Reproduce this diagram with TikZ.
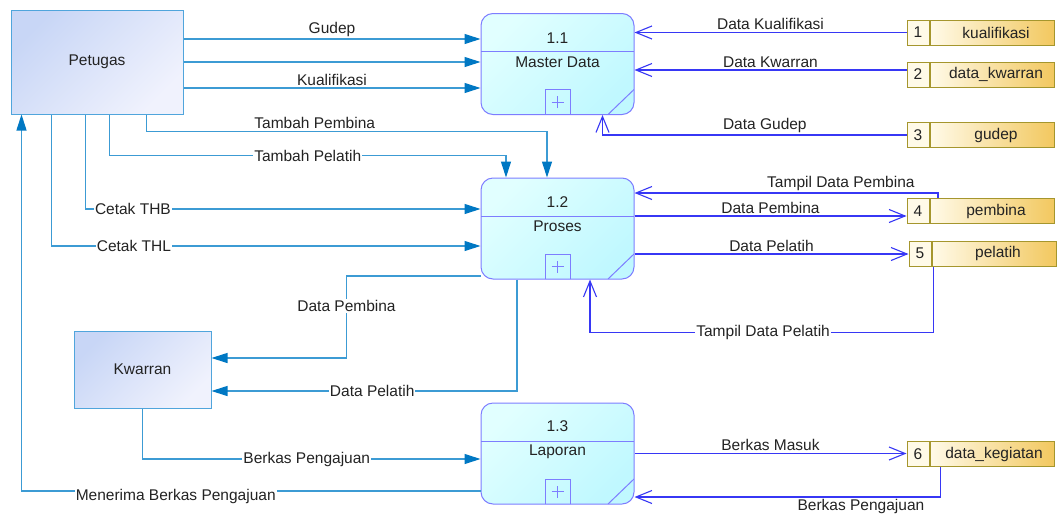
\documentclass[tikz,border=0pt]{standalone}
\usepackage{fontspec}
\setmainfont{Liberation Sans}
\usetikzlibrary{positioning,arrows.meta}

\definecolor{entline}{RGB}{80,165,220}
\definecolor{enttop}{RGB}{200,214,246}
\definecolor{entbot}{RGB}{240,242,253}
\definecolor{procline}{RGB}{125,125,255}
\definecolor{proctop}{RGB}{225,255,255}
\definecolor{procbot}{RGB}{192,248,255}
\definecolor{storeline}{RGB}{165,150,45}
\definecolor{storeleft}{RGB}{255,250,232}
\definecolor{storeright}{RGB}{242,200,95}
\definecolor{flowline}{RGB}{60,155,212}
\definecolor{flowtip}{RGB}{0,120,195}
\definecolor{dataline}{RGB}{55,55,245}
\definecolor{ink}{RGB}{35,35,35}

\begin{document}
\begin{tikzpicture}[
        x=1pt, y=-1pt,
        font=\fontsize{15.5}{17}\selectfont, text=ink,
        entity/.style={draw=entline, line width=1pt, top color=enttop, bottom color=entbot, shading angle=45},
        proc/.style={draw=procline, line width=1pt, rounded corners=12pt, minimum width=153pt, minimum height=101pt,
          top color=proctop, bottom color=procbot, shading angle=45,
          path picture={
            \draw[procline, line width=1pt, sharp corners] ([yshift=-38pt]path picture bounding box.north west) -- ([yshift=-38pt]path picture bounding box.north east);
            \draw[procline, line width=1pt, sharp corners] ([xshift=-12.5pt]path picture bounding box.south) rectangle ([xshift=12.5pt, yshift=25pt]path picture bounding box.south);
            \draw[procline, line width=0.7pt, sharp corners] ([yshift=12.5pt]path picture bounding box.south) +(-6pt,0pt) -- +(6pt,0pt) +(0pt,-6pt) -- +(0pt,6pt);
            \draw[procline, line width=1pt, sharp corners] ([yshift=25pt]path picture bounding box.south east) -- ([xshift=-26pt]path picture bounding box.south east);
          }},
        storenum/.style={draw=storeline, line width=1pt, fill=storeleft, minimum width=22pt, minimum height=25pt, inner sep=0pt},
        storebox/.style={draw=storeline, line width=1pt, left color=storeleft, right color=storeright, minimum width=124pt, minimum height=25pt, inner sep=0pt},
        flow/.style={draw=flowline, line width=1.1pt, -{Triangle[length=16pt, width=10pt, color=flowtip]}},
        dflow/.style={draw=dataline, line width=1.1pt, -{Straight Barb[length=16pt, width=13pt]}},
        lbl/.style={inner sep=2pt},
        onlbl/.style={fill=white, inner sep=1pt}
      ]

      \fill[white] (0,0) rectangle (1057,517);
      \useasboundingbox (0,0) rectangle (1057,517);

      % external entities
      \node (pet) [entity, minimum width=172pt, minimum height=104pt] at (97,62) {Petugas};
      \node (kwr) [entity, minimum width=137pt, minimum height=77pt] at (142.5,369.5) {Kwarran};

      % processes
      \node (p11) [proc] at (557.5,64) {};
      \node (p11num) at ([yshift=-25pt]p11.north) {1.1};
      \node (p11txt) at ([yshift=-49pt]p11.north) {Master Data};
      \node (p12) [proc] at (557.5,228.5) {};
      \node (p12num) at ([yshift=-25pt]p12.north) {1.2};
      \node (p12txt) at ([yshift=-49pt]p12.north) {Proses};
      \node (p13) [proc] at (557.5,453.5) {};
      \node (p13num) at ([yshift=-24pt]p13.north) {1.3};
      \node (p13txt) at ([yshift=-49pt]p13.north) {Laporan};

      % data stores
      \node (d1n) [storenum] at (918,32.5) {1};
      \node (d1) [storebox, right=0pt of d1n] {\hspace{8pt}kualifikasi};
      \node (d2n) [storenum] at (918,74.5) {2};
      \node (d2) [storebox, right=0pt of d2n] {\hspace{8pt}data\_kwarran};
      \node (d3n) [storenum] at (918,135) {3};
      \node (d3) [storebox, right=0pt of d3n] {\hspace{8pt}gudep};
      \node (d4n) [storenum] at (918,211) {4};
      \node (d4) [storebox, right=0pt of d4n] {\hspace{8pt}pembina};
      \node (d5n) [storenum] at (920,253.5) {5};
      \node (d5) [storebox, right=0pt of d5n] {\hspace{8pt}pelatih};
      \node (d6n) [storenum] at (918,454) {6};
      \node (d6) [storebox, right=0pt of d6n] {\hspace{4pt}data\_kegiatan};

      % flows from the entities
      \draw[flow] ([yshift=23pt]pet.east) coordinate (gd) -- node[above, lbl] {Gudep} (gd -| p11.west);
      \draw[flow] (pet.east) -- (pet.east -| p11.west);
      \draw[flow] ([yshift=-26pt]pet.east) coordinate (kl) -- node[above, lbl] {Kualifikasi} (kl -| p11.west);
      \draw[flow] ([xshift=136pt]pet.south west) -- ++(0,17) -| node[pos=0.21, above, lbl] {Tambah Pembina} ([xshift=-10.5pt]p12.north);
      \draw[flow] ([xshift=99pt]pet.south west) -- ++(0,41) -| node[pos=0.25, onlbl] {Tambah Pelatih} ([xshift=-51.5pt]p12.north);
      \draw[flow] ([xshift=75pt]pet.south west) |- node[pos=0.56, onlbl] {Cetak THB} ([yshift=19.5pt]p12.west);
      \draw[flow] ([xshift=41pt]pet.south west) |- node[pos=0.596, onlbl] {Cetak THL} ([yshift=-17.5pt]p12.west);
      \draw[flow] ([yshift=-37.5pt]p13.west) -| node[pos=0.332, onlbl, yshift=-5pt] {Menerima Berkas Pengajuan} ([xshift=11pt]pet.south west);
      \draw[flow] (kwr.south) |- node[pos=0.743, onlbl] {Berkas Pengajuan} ([yshift=-5.5pt]p13.west);
      \draw[flow] ([yshift=-47.5pt]p12.west) -- ++(-134,0) |- node[pos=0.183, onlbl] {Data Pembina} ([yshift=11.5pt]kwr.east);
      \draw[flow] ([xshift=-40.5pt]p12.south) |- node[pos=0.737, onlbl] {Data Pelatih} ([yshift=-21.5pt]kwr.east);

      % flows to and from the stores
      \draw[dflow] (d1n.west) -- node[above, lbl] {Data Kualifikasi} (d1n.west -| p11.east);
      \draw[dflow] ([yshift=4.5pt]d2n.west) coordinate (kw) -- node[above, lbl] {Data Kwarran} (kw -| p11.east);
      \draw[dflow] (d3n.west) -| node[pos=0.233, above, lbl] {Data Gudep} ([xshift=45pt]p11.south);
      \draw[dflow] ([xshift=8.5pt]d4.north west) |- node[pos=0.66, above, lbl] {Tampil Data Pembina} ([yshift=35.5pt]p12.east);
      \draw[dflow] ([yshift=12.5pt]p12.east) coordinate (pb) -- node[above, lbl] {Data Pembina} (pb -| d4n.west);
      \draw[dflow] ([yshift=-25.5pt]p12.east) coordinate (pl) -- node[above, lbl] {Data Pelatih} (pl -| d5n.west);
      \draw[dflow] ([xshift=2pt]d5.south west) -- ++(0,66) -| node[pos=0.248, onlbl] {Tampil Data Pelatih} ([xshift=32.5pt]p12.south);
      \draw[dflow] (p13.east) -- node[above, lbl] {Berkas Masuk} (p13.east -| d6n.west);
      \draw[dflow] ([xshift=11pt]d6.south west) |- node[pos=0.63, below, lbl] {Berkas Pengajuan} ([yshift=-43.5pt]p13.east);

    \end{tikzpicture}
\end{document}
